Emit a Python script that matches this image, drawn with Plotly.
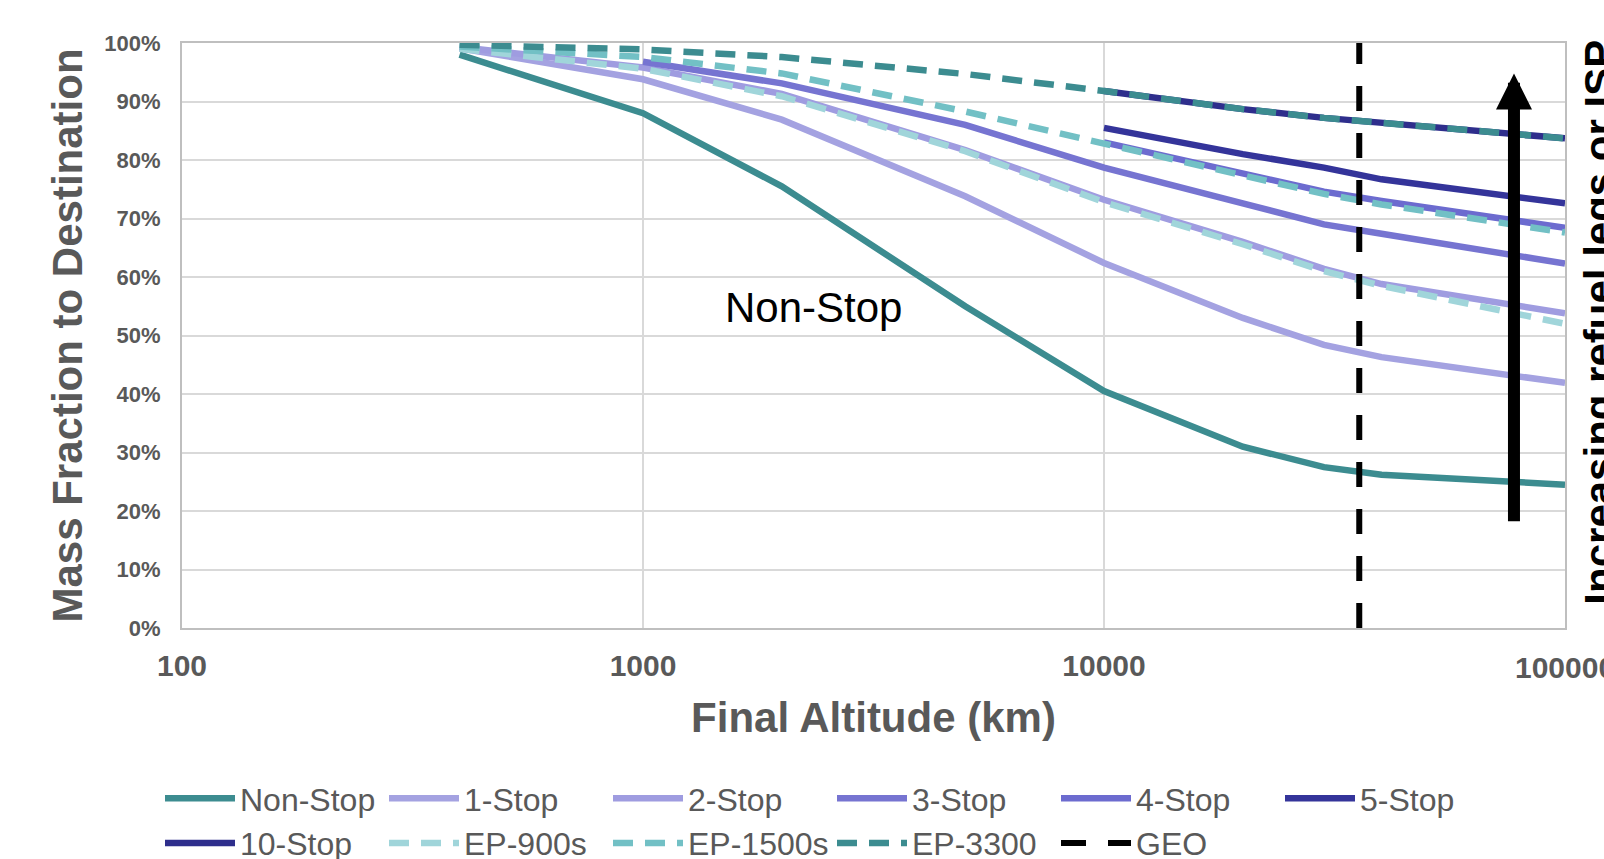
import math
import plotly.graph_objects as go

# ---------------- data ----------------
altitude_km = [400, 1000, 2000, 5000, 10000, 20000, 30000, 40000, 100000]
non_stop = [98.0, 88.0, 75.5, 55.0, 40.5, 31.0, 27.5, 26.2, 24.5]
one_stop = [99.1, 93.8, 86.9, 73.8, 62.4, 53.0, 48.4, 46.3, 41.9]
two_stop = [99.3, 95.8, 91.3, 81.7, 73.2, 66.0, 61.4, 58.8, 53.8]
three_stop = [None, 96.8, 93.1, 86.0, 78.7, 72.6, 69.0, 67.4, 62.3]
four_stop = [None, None, None, None, 83.0, 77.6, 74.6, 73.0, 68.4]
five_stop = [None, None, None, None, 85.5, 81.0, 78.7, 76.7, 72.6]
ten_stop = [None, None, None, None, 91.8, 88.7, 87.2, 86.3, 83.7]
ep_900s = [99.0, 95.6, 90.9, 81.5, 72.8, 65.6, 61.0, 58.5, 52.0]
ep_1500s = [99.4, 97.6, 94.8, 88.3, 82.8, 77.3, 74.2, 72.4, 67.6]
ep_3300 = [99.7, 98.9, 97.6, 94.7, 91.8, 88.7, 87.2, 86.3, 83.7]
geo_km = [35786, 35786]
geo_frac = [0, 100]

x_tickvals = [100, 1000, 10000, 100000]
x_ticktext = ["100", "1000", "10000", "100000"]
y_tickvals = [0, 10, 20, 30, 40, 50, 60, 70, 80, 90, 100]
y_ticktext = ["0%", "10%", "20%", "30%", "40%", "50%", "60%", "70%", "80%", "90%", "100%"]

arrow_x_km = 77500
arrow_from = 18.0
arrow_to = 94.8
label_x_km = 2340
label_y = 54.8

FONT = "Liberation Sans, Arial, sans-serif"
GREY = "#595959"

series = [
    ("Non-Stop", non_stop, "#3C8C90", "solid"),
    ("1-Stop", one_stop, "#A4A2E1", "solid"),
    ("2-Stop", two_stop, "#9F9CE0", "solid"),
    ("3-Stop", three_stop, "#7674D1", "solid"),
    ("4-Stop", four_stop, "#6C6BCF", "solid"),
    ("5-Stop", five_stop, "#34349A", "solid"),
    ("10-Stop", ten_stop, "#2E2E8C", "solid"),
    ("EP-900s", ep_900s, "#A0D5DA", "20px,12px"),
    ("EP-1500s", ep_1500s, "#72C0C5", "20px,12px"),
    ("EP-3300", ep_3300, "#3C8C90", "20px,12px"),
]

fig = go.Figure()
for name, vals, color, dash in series:
    fig.add_trace(go.Scatter(
        x=altitude_km, y=vals, name=name, mode="lines",
        line=dict(color=color, width=6.5, dash=dash),
    ))
fig.add_trace(go.Scatter(
    x=geo_km, y=geo_frac, name="GEO", mode="lines",
    line=dict(color="black", width=6, dash="25px,22px"),
))

W, H = 1604, 859
L, R, T, B = 182, 39, 43, 231

fig.update_layout(
    width=W, height=H,
    margin=dict(l=L, r=R, t=T, b=B, autoexpand=False),
    paper_bgcolor="white", plot_bgcolor="white",
    font=dict(family=FONT, color=GREY),
    showlegend=True,
    legend=dict(
        orientation="h", xref="container", yref="container",
        x=160 / W, y=1 - 771 / H, xanchor="left", yanchor="top",
        font=dict(family=FONT, size=32, color=GREY),
        itemwidth=70, entrywidth=139, entrywidthmode="pixels",
        bgcolor="rgba(0,0,0,0)", tracegroupgap=0,
    ),
    xaxis=dict(
        type="log", range=[2, 5],
        tickvals=x_tickvals, ticktext=x_ticktext,
        tickfont=dict(family=FONT, size=30, color=GREY, weight="bold"),
        ticks="", ticklabelstandoff=10,
        showgrid=True, gridcolor="#D9D9D9", gridwidth=1.5,
        showline=True, linecolor="#BFBFBF", linewidth=2, mirror=True,
        zeroline=False,
        title=dict(text="Final Altitude (km)", standoff=22,
                   font=dict(family=FONT, size=42, color=GREY, weight="bold")),
    ),
    yaxis=dict(
        range=[0, 100], tickvals=y_tickvals, ticktext=y_ticktext,
        tickfont=dict(family=FONT, size=22, color=GREY, weight="bold"),
        ticks="", ticklabelstandoff=15,
        showgrid=True, gridcolor="#D9D9D9", gridwidth=1.5,
        showline=True, linecolor="#BFBFBF", linewidth=2, mirror=True,
        zeroline=False,
        title=dict(text="Mass Fraction to Destination", standoff=9,
                   font=dict(family=FONT, size=42, color=GREY, weight="bold")),
    ),
)

# the last x tick label sits on the right edge of the page (cut off, as in the reference)
fig.add_annotation(
    x=math.log10(x_tickvals[-1]), y=0, xref="x", yref="paper",
    yshift=-39, text=x_ticktext[-1], showarrow=False,
    xanchor="center", yanchor="middle",
    font=dict(family=FONT, size=30, color=GREY, weight="bold"),
)

# arrow: increasing refuel legs or ISP
fig.add_annotation(
    x=math.log10(arrow_x_km), y=arrow_to, xref="x", yref="y",
    ax=math.log10(arrow_x_km), ay=arrow_from, axref="x", ayref="y",
    text="", showarrow=True, arrowhead=2, arrowsize=0.6, arrowwidth=12,
    arrowcolor="black", standoff=0, startstandoff=0,
)
fig.add_annotation(
    x=math.log10(label_x_km), y=label_y, xref="x", yref="y",
    text="Non-Stop", showarrow=False,
    font=dict(family=FONT, size=42, color="black"),
)
fig.add_annotation(
    x=(1600 - L) / (W - L - R), y=0.522, xref="paper", yref="paper",
    text="<b>Increasing refuel legs or ISP</b>", showarrow=False,
    textangle=-90, xanchor="center", yanchor="middle",
    font=dict(family=FONT, size=42, color="black"),
)

fig.write_html("out.html")
